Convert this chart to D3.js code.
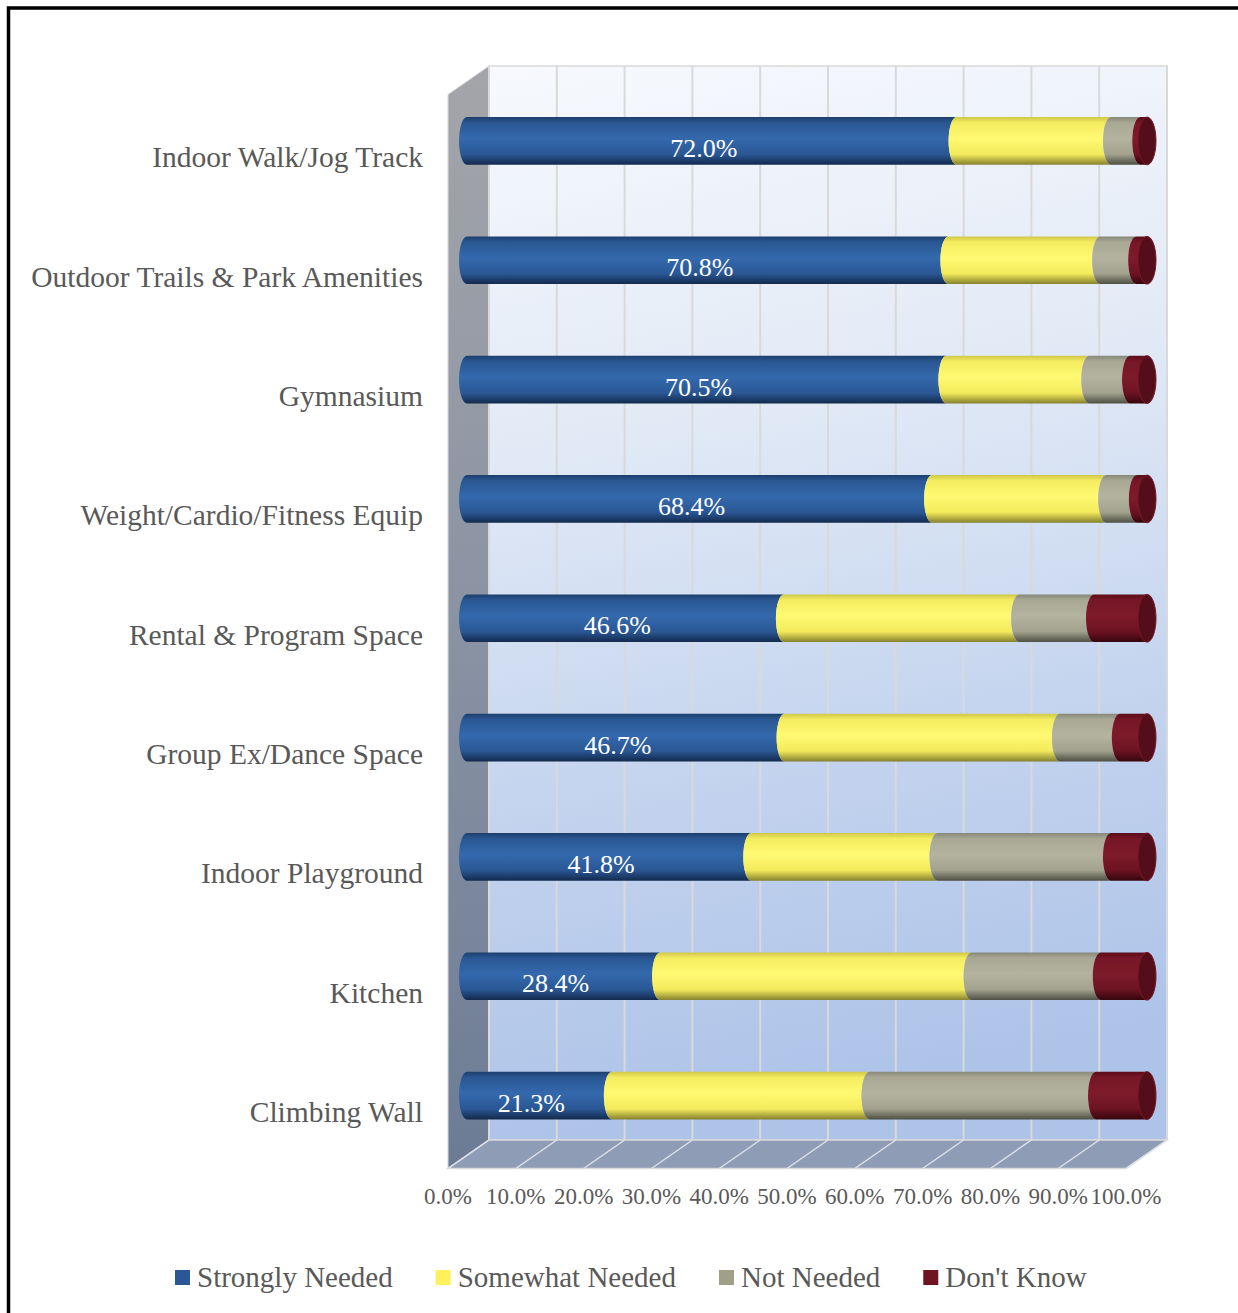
<!DOCTYPE html>
<html>
<head>
<meta charset="utf-8">
<script src="https://cdn.jsdelivr.net/npm/d3@7"></script>
<style>
  html, body { margin: 0; padding: 0; background: #ffffff; }
  svg { display: block; }
</style>
</head>
<body>
<svg id="chart" width="1238" height="1313"></svg>
<script>
// ---------- DATA ----------
const categories = [
  "Indoor Walk/Jog Track",
  "Outdoor Trails & Park Amenities",
  "Gymnasium",
  "Weight/Cardio/Fitness Equip",
  "Rental & Program Space",
  "Group Ex/Dance Space",
  "Indoor Playground",
  "Kitchen",
  "Climbing Wall"
];
const seriesNames = ["Strongly Needed", "Somewhat Needed", "Not Needed", "Don't Know"];
const stronglyNeeded = [72.0, 70.8, 70.5, 68.4, 46.6, 46.7, 41.8, 28.4, 21.3];
const somewhatNeeded = [22.7, 22.3, 21.0, 25.6, 34.6, 40.5, 27.4, 45.8, 37.9];
const notNeeded      = [4.3, 5.3, 6.0, 4.5, 11.0, 8.8, 25.5, 19.0, 33.3];
const dontKnow       = [1.0, 1.6, 2.5, 1.5, 7.8, 4.0, 5.3, 6.8, 7.5];
const xTickValues = [0, 10, 20, 30, 40, 50, 60, 70, 80, 90, 100];

// ---------- STYLE ----------
const keys = ["s", "w", "n", "d"];
const legendColors = ["#2b5797", "#fff05c", "#a0a088", "#6e1423"];
const gradStops = [
  [["0", "#1d3e6c"], ["0.12", "#2a5793"], ["0.45", "#3469ad"], ["0.78", "#2a5795"], ["1", "#132a4c"]],
  [["0", "#cfc748"], ["0.12", "#f4ec60"], ["0.45", "#fffa72"], ["0.78", "#f3ea5c"], ["1", "#85802e"]],
  [["0", "#88887a"], ["0.12", "#a8a894"], ["0.45", "#b3b39f"], ["0.78", "#a2a28e"], ["1", "#4e4e44"]],
  [["0", "#5a0c1a"], ["0.12", "#761626"], ["0.45", "#7e1b2b"], ["0.78", "#6c1322"], ["1", "#35060e"]]
];
const textColor = "#595959";
const serif = "'Liberation Serif', 'Times New Roman', serif";

// ---------- GEOMETRY ----------
const svg = d3.select("#chart");
const defs = svg.append("defs");

const back = { x0: 489, x1: 1167, y0: 66, y1: 1140 };
const dx = 41, dy = 28.5;          // depth offset (back -> front: -dx, +dy)
const xBack = d3.scaleLinear().domain([0, 100]).range([back.x0, back.x1]);
const xFront = d3.scaleLinear().domain([0, 100]).range([back.x0 - dx, back.x1 - dx]);
const xBar = d3.scaleLinear().domain([0, 100]).range([467, 1147]);
const yBar = d3.scaleBand().domain(categories).range([back.y0 + dy / 2 + 1, back.y1 + dy / 2 + 1])
  .paddingInner(0.6).paddingOuter(0.3);
const yFront = d3.scaleBand().domain(categories).range([back.y0 + dy, back.y1 + dy])
  .paddingInner(0.6).paddingOuter(0.3);

// gradients
const wallGrad = defs.append("linearGradient").attr("id", "wallGrad")
  .attr("x1", 0).attr("y1", 0).attr("x2", 0.12).attr("y2", 1);
[["0", "#f7f9fd"], ["0.35", "#e2eaf6"], ["0.7", "#c3d3ee"], ["1", "#adc3e8"]]
  .forEach(s => wallGrad.append("stop").attr("offset", s[0]).attr("stop-color", s[1]));
const sideGrad = defs.append("linearGradient").attr("id", "sideGrad")
  .attr("x1", 0).attr("y1", 0).attr("x2", 0).attr("y2", 1);
[["0", "#a4a5aa"], ["0.5", "#8a93a3"], ["1", "#6c7b95"]]
  .forEach(s => sideGrad.append("stop").attr("offset", s[0]).attr("stop-color", s[1]));
gradStops.forEach((stops, i) => {
  const g = defs.append("linearGradient").attr("id", "barGrad" + i)
    .attr("x1", 0).attr("y1", 0).attr("x2", 0).attr("y2", 1);
  stops.forEach(s => g.append("stop").attr("offset", s[0]).attr("stop-color", s[1]));
});

// outer border
svg.append("rect").attr("x", 8.5).attr("y", 8).attr("width", 1400).attr("height", 1400)
  .attr("fill", "none").attr("stroke", "#000").attr("stroke-width", 3.5);

// back wall
svg.append("rect").attr("x", back.x0).attr("y", back.y0)
  .attr("width", back.x1 - back.x0).attr("height", back.y1 - back.y0)
  .attr("fill", "url(#wallGrad)").attr("stroke", "#d9d9d9").attr("stroke-width", 1.5);

// side wall
svg.append("path")
  .attr("d", `M${back.x0 - dx},${back.y0 + dy} L${back.x0},${back.y0} L${back.x0},${back.y1} L${back.x0 - dx},${back.y1 + dy} Z`)
  .attr("fill", "url(#sideGrad)").attr("stroke", "#d9d9d9").attr("stroke-width", 1);

// floor
svg.append("path")
  .attr("d", `M${xFront(0)},${back.y1 + dy} L${xBack(0)},${back.y1} L${xBack(100)},${back.y1} L${xFront(100)},${back.y1 + dy} Z`)
  .attr("fill", "#8f9cb5").attr("stroke", "#d9d9d9").attr("stroke-width", 1.5);

// gridlines on back wall
svg.append("g").selectAll("line").data(xTickValues).join("line")
  .attr("x1", d => xBack(d)).attr("x2", d => xBack(d))
  .attr("y1", back.y0).attr("y2", back.y1)
  .attr("stroke", "#d9d9d9").attr("stroke-width", 2);
// gridlines on floor
svg.append("g").selectAll("line").data(xTickValues).join("line")
  .attr("x1", d => xFront(d)).attr("x2", d => xBack(d))
  .attr("y1", back.y1 + dy).attr("y2", back.y1)
  .attr("stroke", "#dde2ea").attr("stroke-width", 1.5);

// x tick labels
svg.append("g").selectAll("text").data(xTickValues).join("text")
  .attr("x", d => xFront(d)).attr("y", 1204)
  .attr("text-anchor", "middle")
  .attr("font-family", serif).attr("font-size", 23).attr("fill", textColor)
  .text(d => d.toFixed(1) + "%");

// category labels
svg.append("g").selectAll("text").data(categories).join("text")
  .attr("x", 423).attr("y", d => yFront(d) + yFront.bandwidth() / 2 + 13)
  .attr("text-anchor", "end")
  .attr("font-family", serif).attr("font-size", 29.5).attr("fill", textColor)
  .text(d => d);

// ---------- BARS ----------
const rows = categories.map((c, i) => ({
  cat: c, s: stronglyNeeded[i], w: somewhatNeeded[i], n: notNeeded[i], d: dontKnow[i]
}));
const stacked = d3.stack().keys(keys)(rows);
const rx = 8;
const bh = yBar.bandwidth();
const ry = bh / 2;

function segPath(a, b, top, last) {
  const xa = xBar(a), xb = xBar(b), bot = top + bh;
  return `M${xa},${top} A${rx},${ry} 0 0 0 ${xa},${bot} L${xb},${bot} ` +
         `A${rx},${ry} 0 0 ${last ? 0 : 1} ${xb},${top} Z`;
}

const barG = svg.append("g");
rows.forEach((r, ri) => {
  const top = yBar(r.cat);
  stacked.forEach((layer, li) => {
    const seg = layer[ri];
    const last = li === stacked.length - 1;
    barG.append("path")
      .attr("d", segPath(seg[0], seg[1], top, last))
      .attr("fill", `url(#barGrad${li})`);
    if (last) {
      barG.append("ellipse")
        .attr("cx", xBar(seg[1])).attr("cy", top + ry)
        .attr("rx", rx + 1).attr("ry", ry)
        .attr("fill", "#540e1a").attr("stroke", "#7a1828").attr("stroke-width", 1);
    }
  });
});

// value labels (Strongly Needed)
svg.append("g").selectAll("text").data(rows).join("text")
  .attr("x", d => (xBar(0) + xBar(d.s)) / 2 - rx)
  .attr("y", d => yBar(d.cat) + ry + 16)
  .attr("text-anchor", "middle")
  .attr("font-family", serif).attr("font-size", 26).attr("fill", "#ffffff")
  .text(d => d.s.toFixed(1) + "%");

// ---------- LEGEND ----------
const legend = svg.append("g");
let lx = 175;
seriesNames.forEach((name, i) => {
  legend.append("rect").attr("x", lx).attr("y", 1270).attr("width", 15).attr("height", 15)
    .attr("fill", legendColors[i]);
  const t = legend.append("text").attr("x", lx + 22).attr("y", 1287)
    .attr("font-family", serif).attr("font-size", 29).attr("fill", textColor)
    .text(name);
  lx += 22 + t.node().getComputedTextLength() + 43;
});
</script>
</body>
</html>
